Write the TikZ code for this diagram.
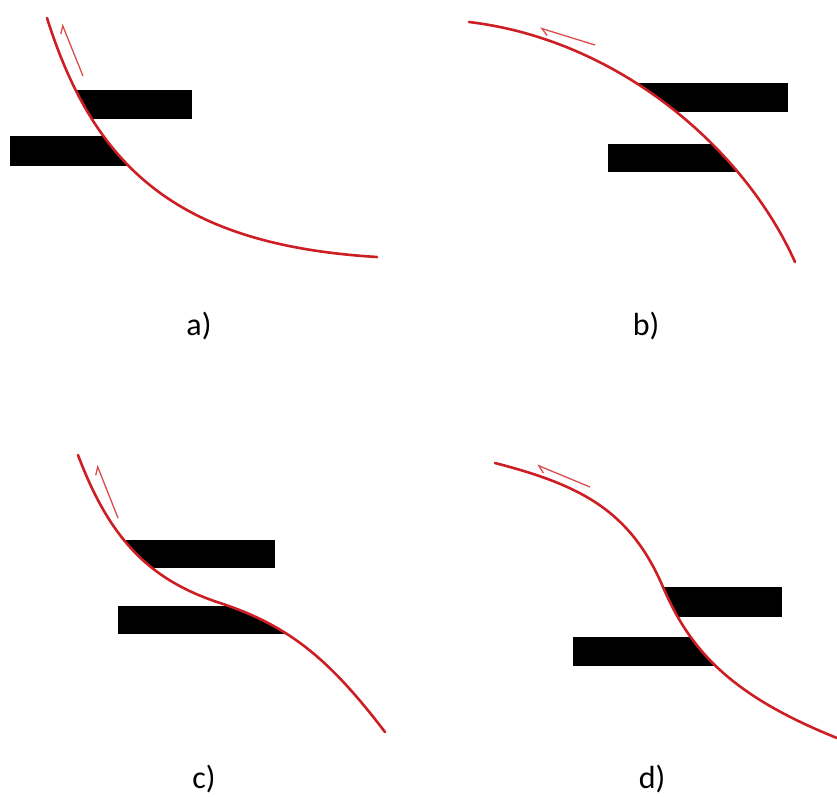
\documentclass[tikz,border=0pt]{standalone}
\usepackage{fontspec}
\setmainfont{Carlito}
\usepackage{xcolor}
\usepackage{tikz}
\usetikzlibrary{arrows.meta}

\definecolor{faultred}{RGB}{205,30,36}
\definecolor{slipred}{RGB}{220,75,75}

% fault traces of the four panels
\newcommand{\faulta}{(47,18) .. controls (95,170) and (180,245) .. (377,257)}
\newcommand{\faultb}{(469,22) .. controls (620,40) and (745,150) .. (795,262)}
\newcommand{\faultc}{(78,455) .. controls (110,540) and (150,580) .. (220,603) .. controls (290,626) and (330,660) .. (385,732)}
\newcommand{\faultd}{(495,463) .. controls (580,485) and (630,510) .. (663,587) .. controls (690,650) and (730,695) .. (837,738)}

\begin{document}
\begin{tikzpicture}[
    x=1pt, y=-1pt,
    fault/.style={draw=faultred, line width=2.6pt, line cap=round},
    bar/.style={fill=black},
    slip/.style={-{Straight Barb[left, length=7pt, width=10pt]}, draw=slipred, line width=1.3pt},
    caption/.style={font=\fontsize{32}{36}\selectfont, inner sep=0pt}
]
\useasboundingbox (0,0) rectangle (837,796);

% a)
\begin{scope}
  \clip \faulta -- (420,257) -- (420,0) -- (47,0) -- cycle;
  \fill[bar] (70,90) rectangle (192,119);
\end{scope}
\begin{scope}
  \clip \faulta -- (0,257) -- (0,18) -- cycle;
  \fill[bar] (10,136) rectangle (150,166);
\end{scope}
\draw[fault] \faulta;
\coordinate (atail) at (83,76);
\coordinate (ahead) at (62,24);
\draw[slip] (atail) -- (ahead);
\node[caption] (capa) at (199,326) {a)};

% b)
\begin{scope}
  \clip \faultb -- (837,262) -- (837,0) -- (469,0) -- cycle;
  \fill[bar] (630,83) rectangle (788,112);
\end{scope}
\begin{scope}
  \clip \faultb -- (440,262) -- (440,22) -- cycle;
  \fill[bar] (608,144) rectangle (770,172);
\end{scope}
\draw[fault] \faultb;
\coordinate (btail) at (595,45);
\coordinate (bhead) at (540,28);
\draw[slip] (btail) -- (bhead);
\node[caption] (capb) at (646,326) {b)};

% c)
\begin{scope}
  \clip \faultc -- (420,732) -- (420,440) -- (78,440) -- cycle;
  \fill[bar] (105,540) rectangle (275,568);
\end{scope}
\begin{scope}
  \clip \faultc -- (60,732) -- (60,455) -- cycle;
  \fill[bar] (118,606) rectangle (310,634);
\end{scope}
\draw[fault] \faultc;
\coordinate (ctail) at (118,518);
\coordinate (chead) at (97,465);
\draw[slip] (ctail) -- (chead);
\node[caption] (capc) at (204,779) {c)};

% d)
\begin{scope}
  \clip \faultd -- (837,440) -- (495,440) -- cycle;
  \fill[bar] (650,587) rectangle (782,617);
\end{scope}
\begin{scope}
  \clip \faultd -- (837,760) -- (480,760) -- (480,463) -- cycle;
  \fill[bar] (573,637) rectangle (730,666);
\end{scope}
\draw[fault] \faultd;
\coordinate (dtail) at (590,487);
\coordinate (dhead) at (537,465);
\draw[slip] (dtail) -- (dhead);
\node[caption] (capd) at (652,779) {d)};

\end{tikzpicture}
\end{document}
